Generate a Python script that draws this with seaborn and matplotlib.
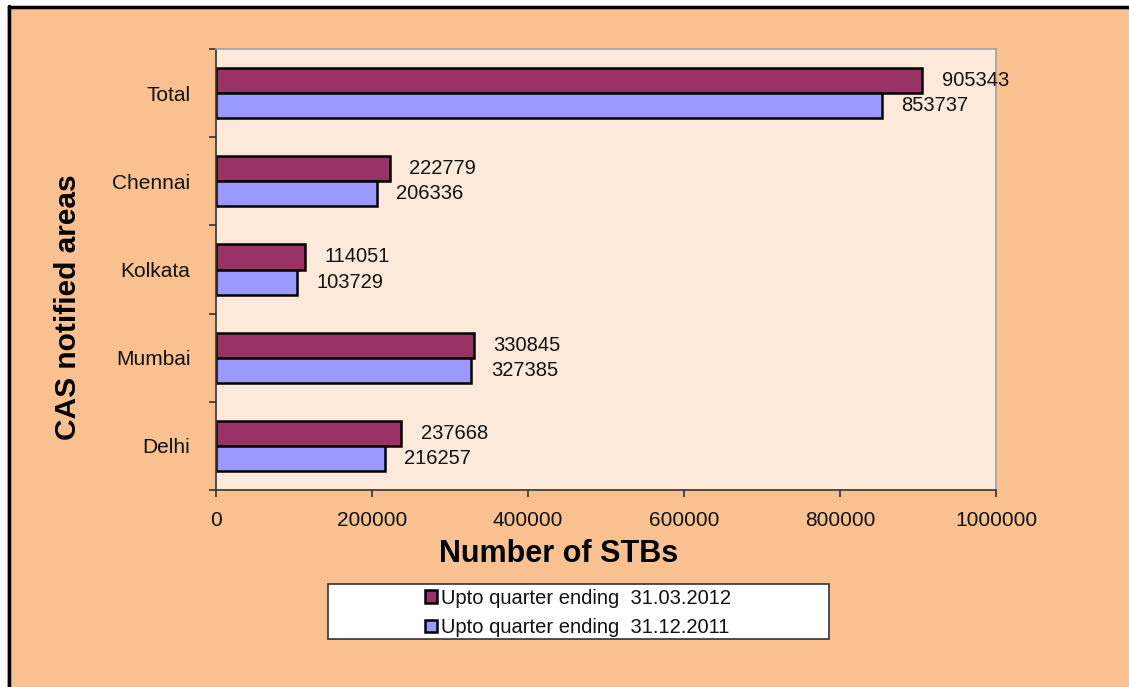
import matplotlib
matplotlib.use("Agg")
import matplotlib.pyplot as plt
from matplotlib.patches import Rectangle
from matplotlib.lines import Line2D
from matplotlib.ticker import FixedLocator
import pandas as pd
import seaborn as sns

# Data
areas = ["Total", "Chennai", "Kolkata", "Mumbai", "Delhi"]
stb_mar_2012 = [905343, 222779, 114051, 330845, 237668]
stb_dec_2011 = [853737, 206336, 103729, 327385, 216257]
series_names = ["Upto quarter ending  31.03.2012", "Upto quarter ending  31.12.2011"]
x_ticks = [0, 200000, 400000, 600000, 800000, 1000000]

df = pd.DataFrame({
    "area": areas * 2,
    "stbs": stb_mar_2012 + stb_dec_2011,
    "period": [series_names[0]] * len(areas) + [series_names[1]] * len(areas),
})

sns.set_style("white")
plt.rcParams["font.family"] = ["Liberation Sans", "DejaVu Sans"]

W, H = 1129, 687
fig = plt.figure(figsize=(W / 100, H / 100), dpi=100, facecolor="#F9C18F")

# Outer frame: white margin and black edge on left/top
fig.patches.append(Rectangle((0, 0), 7 / W, 1, transform=fig.transFigure,
                             facecolor="white", edgecolor="none", zorder=-10))
fig.patches.append(Rectangle((0, 1 - 6 / H), 1, 6 / H, transform=fig.transFigure,
                             facecolor="white", edgecolor="none", zorder=-10))
fig.add_artist(Line2D([8.5 / W, 8.5 / W], [0, 1 - 6 / H], transform=fig.transFigure,
                      color="black", lw=2.5, zorder=-5))
fig.add_artist(Line2D([8.5 / W, 1], [1 - 7 / H, 1 - 7 / H], transform=fig.transFigure,
                      color="black", lw=2.5, zorder=-5))

ax = fig.add_axes([216 / W, 1 - 490 / H, 780 / W, 441 / H])
ax.set_facecolor("#FDE9DA")

colors = ["#993366", "#9999FF"]
sns.barplot(data=df, y="area", x="stbs", hue="period", orient="h",
            order=areas, hue_order=series_names, palette=colors,
            width=0.57, saturation=1, edgecolor="black", linewidth=1.8, ax=ax)

ax.set_xlim(0, 1000000)
ax.set_ylim(4.5, -0.5)

for cont in ax.containers:
    ax.bar_label(cont, fmt="{:.0f}", padding=14, fontsize=14.5, color="#111111")

# Spines
for s in ["left", "bottom"]:
    ax.spines[s].set_color("#333333")
    ax.spines[s].set_linewidth(1.2)
for s in ["top", "right"]:
    ax.spines[s].set_color("#A0A0A0")
    ax.spines[s].set_linewidth(1.2)

# Y axis: labels at category centres, tick marks between categories
ax.yaxis.set_minor_locator(FixedLocator([i - 0.5 for i in range(len(areas) + 1)]))
ax.tick_params(axis="y", which="major", length=0, pad=18.5, labelsize=15, labelcolor="#111111")
ax.tick_params(axis="y", which="minor", left=True, length=5, width=1.2, color="#333333")

# X axis
ax.set_xticks(x_ticks)
ax.set_xticklabels([str(v) for v in x_ticks])
ax.tick_params(axis="x", which="major", bottom=True, length=5, width=1.2, color="#333333",
               pad=10, labelsize=15, labelcolor="#111111")

ax.set_xlabel("Number of STBs", fontsize=22, fontweight="bold", color="black")
ax.set_ylabel("CAS notified areas", fontsize=21.5, fontweight="bold", color="black")
ax.yaxis.set_label_coords((82 - 216) / 780, (490 - 307) / 441)
ax.xaxis.set_label_coords((559 - 216) / 780, (490 - 539) / 441)

# Legend in a white box below the plot
handles, labels = ax.get_legend_handles_labels()
ax.get_legend().remove()
fig.patches.append(Rectangle((328 / W, 1 - 639 / H), 501 / W, 55 / H, transform=fig.transFigure,
                             facecolor="white", edgecolor="#333333", lw=1.2, zorder=1))
leg = fig.legend(handles, labels, loc="center", bbox_to_anchor=(578 / W, 1 - 613 / H),
                 frameon=False, fontsize=14.5, handlelength=0.6, handleheight=0.6,
                 handletextpad=0.2, labelspacing=0.5)
leg.set_zorder(2)
for t in leg.get_texts():
    t.set_color("#111111")

fig.savefig("out.png", dpi=100, facecolor=fig.get_facecolor())
